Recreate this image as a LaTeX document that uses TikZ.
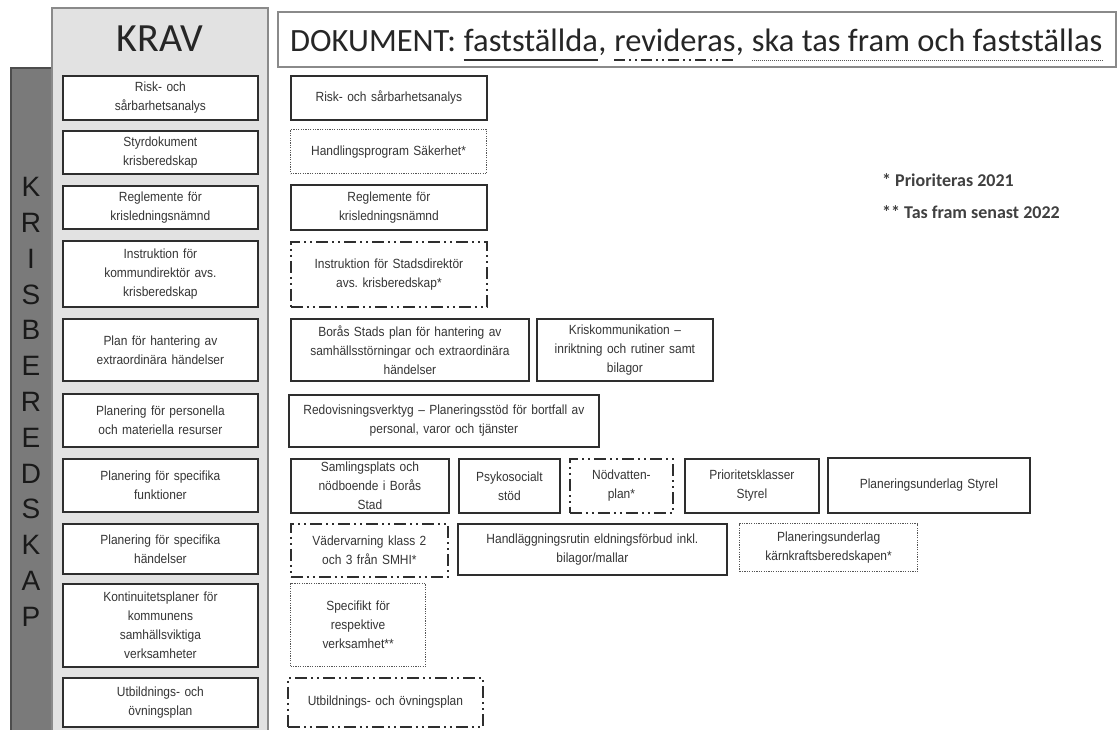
\documentclass[tikz,border=0pt]{standalone}
\usepackage{fontspec}
\setmainfont{Liberation Sans}
\newfontfamily\boxfont[FakeStretch=0.9]{Liberation Sans}
\newfontfamily\calib{Carlito}
\frenchspacing
\definecolor{boxc}{HTML}{2E2E2E}
\definecolor{dotc}{HTML}{555555}
\definecolor{txtc}{HTML}{353535}
\definecolor{darkbar}{HTML}{7A7A7A}
\definecolor{darkbarline}{HTML}{4D4D4D}
\definecolor{panel}{HTML}{E2E2E2}
\definecolor{panelline}{HTML}{8A8A8A}
\tikzset{
  solidbox/.style={draw=boxc, line width=1.8pt, fill=white},
  dotbox/.style={draw=dotc, line width=1.2pt, dash pattern=on 1.2pt off 1.2pt, fill=white},
  ddbox/.style={draw=boxc, line width=1.8pt, dash pattern=on 12pt off 4pt on 2pt off 4pt on 2pt off 4pt, fill=white},
  txt/.style={font=\boxfont\fontsize{13.3}{19}\selectfont, text=txtc, align=center},
  hdr/.style={font=\calib\fontsize{32.5}{38}\selectfont, text=black!85, inner sep=0pt, anchor=base west},
  letter/.style={font=\fontsize{28}{30}\selectfont, text=black!90, inner sep=0pt},
  note/.style={font=\calib\bfseries\fontsize{18}{20}\selectfont, text=black!75, inner sep=0pt, anchor=base west},
}
\newcommand\bx[7]{%
  \pgfmathsetmacro\bw{#4-#2}\pgfmathsetmacro\bh{#5-#3}\pgfmathsetmacro\tw{#4-#2-10}%
  \node[#6, txt, anchor=north west, inner sep=0pt, minimum width=\bw pt, minimum height=\bh pt, text width=\tw pt] (#1) at (#2,#3) {#7};}
\begin{document}
\begin{tikzpicture}[x=1pt,y=-1pt]
\useasboundingbox (0,0) rectangle (1119,729);
\fill[white] (0,0) rectangle (1119,729);
% dark side bar
\draw[fill=darkbar, draw=darkbarline, line width=1.5pt] (11,68) rectangle (52,740);
\foreach \l [count=\i from 0] in {K,R,I,S,B,E,R,E,D,S,K,A,P}
  \node[letter] (kb\i) at (31,{187+\i*35.8}) {\l};
% KRAV panel
\draw[fill=panel, draw=panelline, line width=1.5pt] (52,8) rectangle (268,740);
\node[font=\calib\fontsize{40}{44}\selectfont, text=black!85] (krav) at (160,39) {KRAV};
% header box
\draw[draw=panelline, line width=1.8pt, fill=white] (278,12) rectangle (1116,67);
\node[hdr] (h1) at (290,51) {DOKUMENT:\kern0.23em};
\node[hdr] (h2) at (h1.base east) {fastställda};
\node[hdr] (h3) at (h2.base east) {,\kern0.23em};
\node[hdr] (h4) at (h3.base east) {revideras};
\node[hdr] (h5) at (h4.base east) {,\kern0.23em};
\node[hdr] (h6) at (h5.base east) {ska tas fram och fastställas};
\draw[draw=boxc, line width=2pt] ([yshift=-9pt]h2.base west) -- ([yshift=-9pt]h2.base east);
\draw[draw=boxc, line width=2pt, dash pattern=on 11pt off 4pt on 2pt off 4pt on 2pt off 4pt] ([yshift=-9pt]h4.base west) -- ([yshift=-9pt]h4.base east);
\draw[draw=dotc, line width=1pt, dash pattern=on 1pt off 1pt] ([yshift=-9pt]h6.base west) -- ([yshift=-9pt]h6.base east);
% KRAV boxes
\bx{L1}{62}{75}{257}{119}{solidbox}{Risk- och\\sårbarhetsanalys}
\bx{L2}{62}{130}{257}{173}{solidbox}{Styrdokument\\krisberedskap}
\bx{L3}{62}{185}{257}{228}{solidbox}{Reglemente för\\krisledningsnämnd}
\bx{L4}{62}{240}{257}{306}{solidbox}{Instruktion för\\kommundirektör avs.\\krisberedskap}
\bx{L5}{62}{318}{257}{380}{solidbox}{Plan för hantering av\\extraordinära händelser}
\bx{L6}{62}{393}{257}{446}{solidbox}{Planering för personella\\och materiella resurser}
\bx{L7}{62}{458}{257}{511}{solidbox}{Planering för specifika\\funktioner}
\bx{L8}{62}{523}{257}{573}{solidbox}{Planering för specifika\\händelser}
\bx{L9}{62}{583}{257}{666}{solidbox}{Kontinuitetsplaner för\\kommunens\\samhällsviktiga\\verksamheter}
\bx{L10}{62}{677}{257}{726}{solidbox}{Utbildnings- och\\övningsplan}
% documents
\bx{R1}{290}{75}{486}{119}{solidbox}{Risk- och sårbarhetsanalys}
\bx{R2}{290}{129}{486}{173}{dotbox}{Handlingsprogram Säkerhet*}
\bx{R3}{290}{184}{486}{229}{solidbox}{Reglemente för\\krisledningsnämnd}
\bx{R4}{290}{241}{486}{306}{ddbox}{Instruktion för Stadsdirektör\\avs. krisberedskap*}
\bx{R5}{290}{318}{528}{380}{solidbox}{Borås Stads plan för hantering av\\samhällsstörningar och extraordinära\\händelser}
\bx{R6}{536}{318}{712}{380}{solidbox}{Kriskommunikation –\\inriktning och rutiner samt\\bilagor}
\bx{R7}{288}{394}{598}{446}{solidbox}{Redovisningsverktyg – Planeringsstöd för bortfall av\\personal, varor och tjänster}
\bx{R8}{290}{458}{448}{512}{solidbox}{Samlingsplats och\\nödboende i Borås\\Stad}
\bx{R9}{458}{458}{559}{512}{solidbox}{Psykosocialt\\stöd}
\bx{R10}{569}{458}{672}{512}{ddbox}{Nödvatten-\\plan*}
\bx{R11}{684}{458}{818}{512}{solidbox}{Prioritetsklasser\\Styrel}
\bx{R12}{827}{457}{1029}{512}{solidbox}{Planeringsunderlag Styrel}
\bx{R13}{290}{523}{447}{576}{ddbox}{Vädervarning klass 2\\och 3 från SMHI*}
\bx{R14}{457}{523}{726}{574}{solidbox}{Handläggningsrutin eldningsförbud inkl.\\bilagor/mallar}
\bx{R15}{739}{523}{917}{571}{dotbox}{Planeringsunderlag\\kärnkraftsberedskapen*}
\bx{R16}{290}{583}{425}{666}{dotbox}{Specifikt för\\respektive\\verksamhet**}
\bx{R17}{287}{677}{482}{726}{ddbox}{Utbildnings- och övningsplan}
% notes
\node[note] (n1) at (882,186) {* Prioriteras 2021};
\node[note] (n2) at (882,218) {** Tas fram senast 2022};
\end{tikzpicture}
\end{document}
